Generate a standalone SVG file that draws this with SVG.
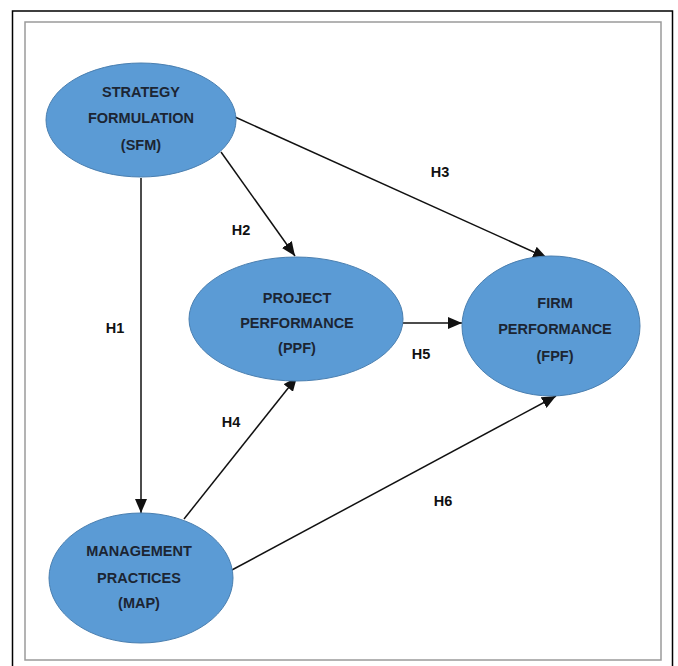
<svg xmlns="http://www.w3.org/2000/svg" width="678" height="666" viewBox="0 0 678 666">
  <style>
    .node { fill: #5b9bd5; stroke: #4a7fb0; stroke-width: 1; }
    .nt { font-family: "Liberation Sans", Arial, sans-serif; font-weight: bold; font-size: 14.5px; fill: #1c2533; text-anchor: middle; }
    .lbl { font-family: "Liberation Sans", Arial, sans-serif; font-weight: bold; font-size: 14.5px; fill: #111; text-anchor: middle; }
    .edge { stroke: #111; stroke-width: 1.5; fill: none; marker-end: url(#ah); }
  </style>
  <defs>
    <marker id="ah" markerUnits="userSpaceOnUse" markerWidth="14" markerHeight="12" refX="14" refY="6" orient="auto">
      <path d="M0,0 L14,6 L0,12 Z" fill="#111"/>
    </marker>
  </defs>
  <rect x="0" y="0" width="678" height="666" fill="#fff"/>
  <path d="M12.5,672 L12.5,11 L672.5,11 L672.5,672" fill="none" stroke="#000" stroke-width="1.5"/>
  <rect x="25" y="22" width="636" height="638" fill="#fff" stroke="#9a9a9a" stroke-width="1.5"/>

  <g id="connectors">
    <line class="edge" x1="141" y1="178" x2="141" y2="513"/>
    <line class="edge" x1="221" y1="152" x2="295" y2="256"/>
    <line class="edge" x1="235" y1="117" x2="547" y2="258"/>
    <line class="edge" x1="184" y1="519" x2="297" y2="377"/>
    <line class="edge" x1="403" y1="323" x2="462" y2="323"/>
    <line class="edge" x1="230" y1="571" x2="556" y2="396"/>
    <text class="lbl" x="115" y="333">H1</text>
    <text class="lbl" x="241" y="235">H2</text>
    <text class="lbl" x="440" y="177">H3</text>
    <text class="lbl" x="231" y="427">H4</text>
    <text class="lbl" x="421" y="359">H5</text>
    <text class="lbl" x="443" y="506">H6</text>
  </g>

  <g id="SFM">
    <ellipse class="node" cx="141" cy="120" rx="95" ry="57"/>
    <text class="nt" x="141" y="97">STRATEGY</text>
    <text class="nt" x="141" y="123">FORMULATION</text>
    <text class="nt" x="141" y="150">(SFM)</text>
  </g>
  <g id="PPF">
    <ellipse class="node" cx="296" cy="319" rx="107" ry="62"/>
    <text class="nt" x="297" y="303">PROJECT</text>
    <text class="nt" x="297" y="328">PERFORMANCE</text>
    <text class="nt" x="297" y="353">(PPF)</text>
  </g>
  <g id="FPF">
    <ellipse class="node" cx="551" cy="326" rx="89" ry="70"/>
    <text class="nt" x="555" y="308">FIRM</text>
    <text class="nt" x="555" y="334">PERFORMANCE</text>
    <text class="nt" x="555" y="361">(FPF)</text>
  </g>
  <g id="MAP">
    <ellipse class="node" cx="141" cy="578" rx="92" ry="65"/>
    <text class="nt" x="139" y="556">MANAGEMENT</text>
    <text class="nt" x="139" y="583">PRACTICES</text>
    <text class="nt" x="139" y="608">(MAP)</text>
  </g>
</svg>
